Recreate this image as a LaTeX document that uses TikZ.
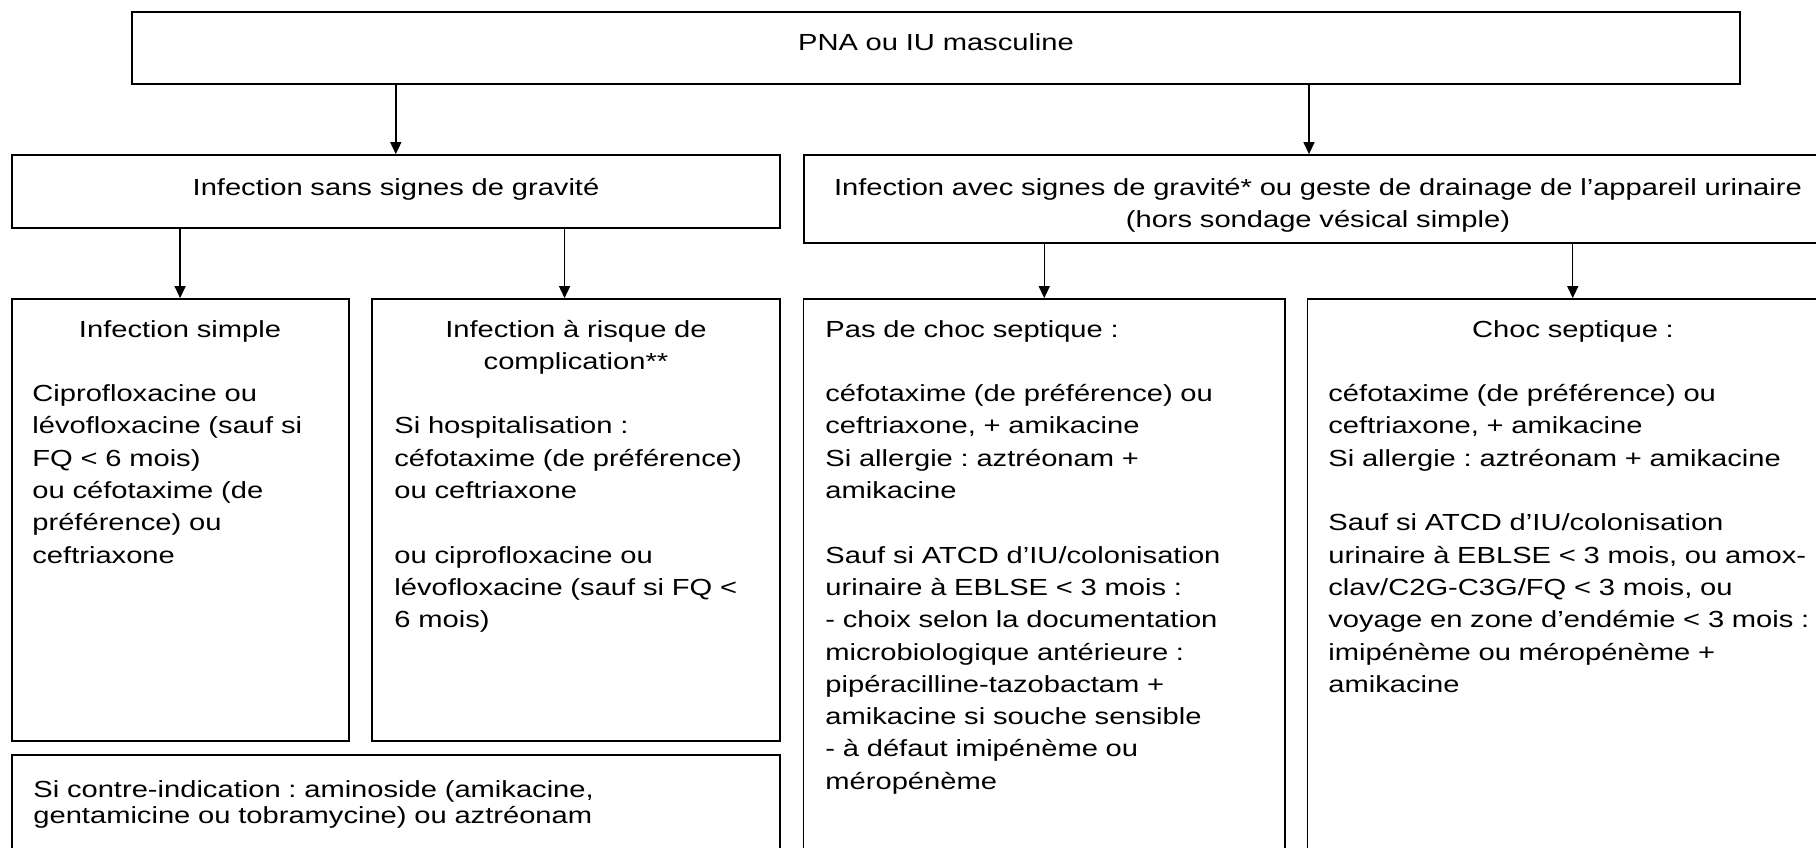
\documentclass[tikz,border=0pt]{standalone}
\usepackage{fontspec}
\setmainfont[FakeStretch=1.25]{Liberation Sans}
\usetikzlibrary{arrows.meta,fit}
\frenchspacing

\begin{document}
\begin{tikzpicture}[x=0.5pt,y=-0.5pt,font=\fontsize{11.65}{16.15}\selectfont]
% Styles: frames, arrows and the texts inside the frames
\tikzstyle{cadre}=[draw,rectangle,inner sep=0pt,line width=0.9pt];
\tikzstyle{fleche}=[-{Triangle[length=6pt,width=5.5pt]},line width=0.7pt];
\tikzstyle{titre}=[inner sep=0pt,anchor=base,text width=250pt,align=center];
\tikzstyle{texte}=[inner sep=0pt,anchor=base west,text width=400pt,align=left];
\useasboundingbox[fill=white] (0,0) rectangle (1816,847);
\clip (0,0) rectangle (1816,847);
% The frames
\node[cadre,fit={(132,12) (1740,84)}](pna){};
\node[cadre,fit={(11.6,155) (780,228)}](sans){};
\node[cadre,fit={(804,155) (1832,243)}](avec){};
\node[cadre,fit={(11.6,299) (348.6,741)}](simple){};
\node[cadre,fit={(371.7,299) (780,741)}](risque){};
\node[cadre,fit={(11.6,755) (780,900)}](contre){};
\node[cadre,fit={(803.5,299) (1285,900)}](paschoc){};
\node[cadre,fit={(1307.5,299) (1838,900)}](choc){};
% The texts
\node[titre](t-pna) at (936,50) {PNA ou IU masculine};
\node[titre](t-sans) at (396,195) {Infection sans signes de gravité};
\node[titre,text width=600pt](t-avec) at (1318,195) {Infection avec signes de gravité* ou geste de drainage de l’appareil urinaire\\(hors sondage vésical simple)};
\node[titre](t-simple) at (180,337) {Infection simple};
\node[texte](x-simple) at (32,401.6) {Ciprofloxacine ou\\lévofloxacine (sauf si\\FQ < 6 mois)\\ou céfotaxime (de\\préférence) ou\\ceftriaxone};
\node[titre](t-risque) at (576,337) {Infection à risque de\\complication**};
\node[texte](x-risque) at (394,433.9) {Si hospitalisation :\\céfotaxime (de préférence)\\ou ceftriaxone\\[16.15pt]ou ciprofloxacine ou\\lévofloxacine (sauf si FQ <\\6 mois)};
\node[texte,font=\fontsize{11.65}{13}\selectfont](x-contre) at (33,797) {Si contre-indication : aminoside (amikacine,\\gentamicine ou tobramycine) ou aztréonam};
\node[texte](x-paschoc) at (825,337) {Pas de choc septique :\\[16.15pt]céfotaxime (de préférence) ou\\ceftriaxone, + amikacine\\Si allergie : aztréonam +\\amikacine\\[16.15pt]Sauf si ATCD d’IU/colonisation\\urinaire à EBLSE < 3 mois :\\- choix selon la documentation\\microbiologique antérieure :\\pipéracilline-tazobactam +\\amikacine si souche sensible\\- à défaut imipénème ou\\méropénème};
\node[titre](t-choc) at (1573,337) {Choc septique :};
\node[texte](x-choc) at (1328,401.6) {céfotaxime (de préférence) ou\\ceftriaxone, + amikacine\\Si allergie : aztréonam + amikacine\\[16.15pt]Sauf si ATCD d’IU/colonisation\\urinaire à EBLSE < 3 mois, ou amox-\\clav/C2G-C3G/FQ < 3 mois, ou\\voyage en zone d’endémie < 3 mois :\\imipénème ou méropénème +\\amikacine};
% The arrows
\coordinate (fa) at ([xshift=-4.5pt]avec.north);
\coordinate (fr) at ([xshift=-5.65pt]risque.north);
\draw[fleche](pna.south -| sans.north)--(sans.north);
\draw[fleche](pna.south -| fa)--(fa);
\draw[fleche](sans.south -| simple.north)--(simple.north);
\draw[fleche](sans.south -| fr)--(fr);
\draw[fleche](avec.south -| paschoc.north)--(paschoc.north);
\draw[fleche](avec.south -| choc.north)--(choc.north);
\end{tikzpicture}
\end{document}
